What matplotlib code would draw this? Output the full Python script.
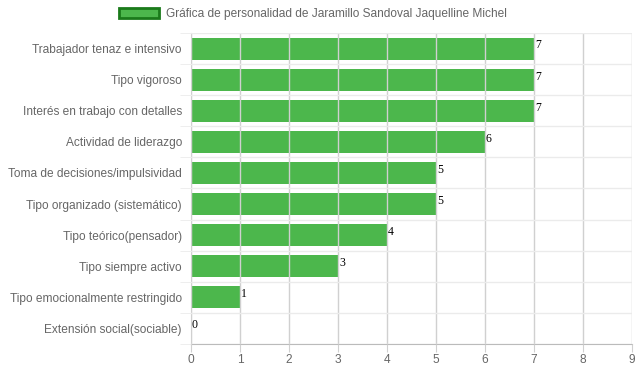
import matplotlib.pyplot as plt
from matplotlib.patches import Patch

# Data
categorias = [
    'Trabajador tenaz e intensivo',
    'Tipo vigoroso',
    'Interés en trabajo con detalles',
    'Actividad de liderazgo',
    'Toma de decisiones/impulsividad',
    'Tipo organizado (sistemático)',
    'Tipo teórico(pensador)',
    'Tipo siempre activo',
    'Tipo emocionalmente restringido',
    'Extensión social(sociable)',
]
valores = [7, 7, 7, 6, 5, 5, 4, 3, 1, 0]
x_ticks = list(range(0, 10))
titulo = 'Gráfica de personalidad de Jaramillo Sandoval Jaquelline Michel'

plt.rcParams['font.family'] = ['Liberation Sans', 'DejaVu Sans']

fig = plt.figure(figsize=(6.39, 3.72), dpi=100)
ax = fig.add_axes([191 / 639, 28 / 372, 441 / 639, 311 / 372])

bar_color = (0, 153 / 255, 0, 0.7)
y = list(range(len(categorias)))
ax.barh(y, valores, height=0.71, color=bar_color, zorder=2)

for yi, v in zip(y, valores):
    ax.text(v + 0.02, yi - 0.1, str(v), va='center', ha='left',
            fontsize=8.5, family='Liberation Serif', color='black', zorder=3)

ax.set_xlim(0, 9)
ax.set_ylim(len(categorias) - 0.5, -0.5)
ax.set_xticks(x_ticks)
ax.set_yticks(y)
ax.set_yticklabels(categorias)
ax.set_yticks([i - 0.5 for i in range(len(categorias) + 1)], minor=True)

ax.tick_params(axis='x', length=5.5, color='#d0d0d0', labelcolor='#666666',
               labelsize=8.6, pad=1.5)
ax.tick_params(axis='y', which='major', length=0, labelcolor='#666666',
               labelsize=8.6, pad=6.5)
ax.tick_params(axis='y', which='minor', length=8, color='#ebebeb')

ax.grid(axis='x', color='#d0d0d0', lw=1, zorder=1)
ax.grid(axis='y', which='minor', color='#ebebeb', lw=1, zorder=1)
ax.set_axisbelow(False)

for s in ['top', 'right']:
    ax.spines[s].set_visible(False)
ax.spines['left'].set_color('#d0d0d0')
ax.spines['bottom'].set_color('#bbbbbb')

handle = Patch(facecolor=bar_color, edgecolor='#1a7a1a', lw=2)
fig.legend([handle], [titulo], loc='center', bbox_to_anchor=(313 / 639, 1 - 14 / 372),
           frameon=False, fontsize=8.6, handlelength=3.4, handleheight=0.9,
           handletextpad=0.6, labelcolor='#666666')

fig.savefig('out.png', dpi=100)
